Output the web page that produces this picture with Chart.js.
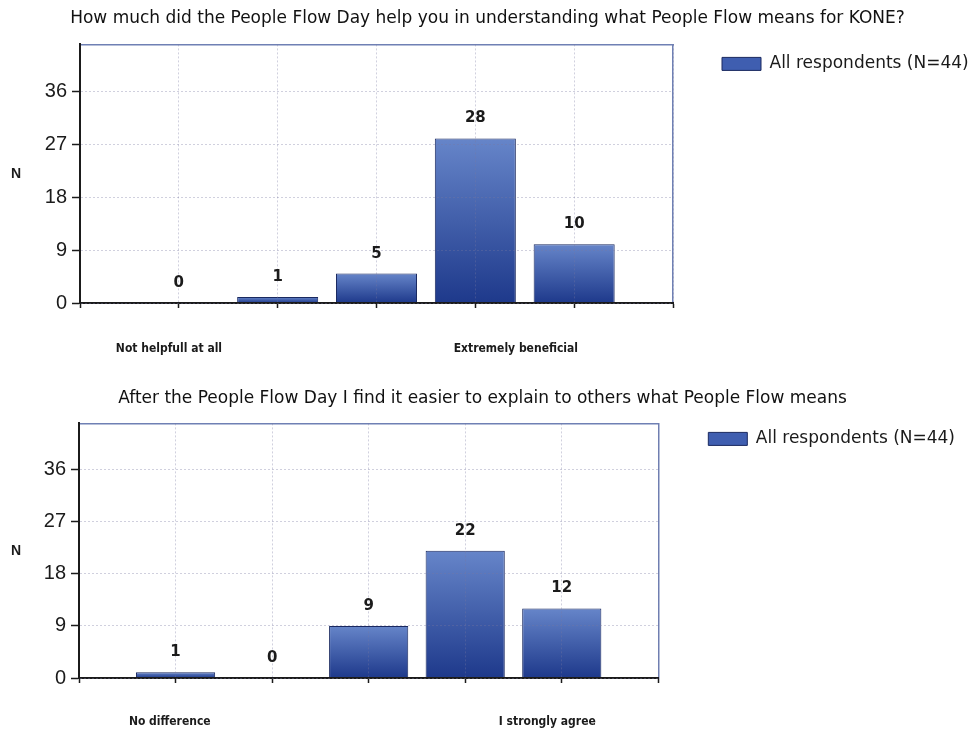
<!DOCTYPE html>
<html>
<head>
<meta charset="utf-8">
<script src="https://cdn.jsdelivr.net/npm/chart.js@4.4.1/dist/chart.umd.min.js"></script>
<style>
  body { margin: 0; background: #fff; }
  .box { position: absolute; left: 0; width: 975px; }
</style>
</head>
<body>
<div class="box" style="top:0;height:372px"><canvas id="chart1"></canvas></div>
<div class="box" style="top:372px;height:360px"><canvas id="chart2"></canvas></div>
<script>
// data
const seriesName = 'All respondents (N=44)';

const title1 = 'How much did the People Flow Day help you in understanding what People Flow means for KONE?';
const categories1 = ['Not helpfull at all', '', '', '', 'Extremely beneficial'];
const values1 = [0, 1, 5, 28, 10];

const title2 = 'After the People Flow Day I find it easier to explain to others what People Flow means';
const categories2 = ['No difference', '', '', '', 'I strongly agree'];
const values2 = [1, 0, 9, 22, 12];

const yTicks = [0, 9, 18, 27, 36];
const yMax = 44;

const dark = '#1b1b1b';
const gridColor = 'rgba(120,120,160,0.35)';
const frameBlue = '#6f80b4';

// bar fill: light blue at the top of each bar, dark navy at its base
function barFill(c) {
  const flat = '#3f5eb0';
  if (c.type !== 'data' || !c.parsed) return flat;
  const y = c.chart.scales.y;
  if (!y) return flat;
  const top = y.getPixelForValue(c.parsed.y);
  const base = y.getPixelForValue(0);
  if (!isFinite(top) || !isFinite(base) || Math.abs(base - top) < 1) return flat;
  const g = c.chart.ctx.createLinearGradient(0, top, 0, base);
  g.addColorStop(0, '#6685c9');
  g.addColorStop(1, '#1e398b');
  return g;
}

// value above each bar + the horizontal "N" axis name
const barValues = {
  id: 'barValues',
  afterDraw(chart) {
    const ctx = chart.ctx;
    const meta = chart.getDatasetMeta(0);
    ctx.save();
    ctx.fillStyle = dark;
    ctx.textAlign = 'center';
    ctx.textBaseline = 'middle';
    ctx.font = 'bold 15px "DejaVu Sans"';
    meta.data.forEach((bar, i) => {
      const v = chart.data.datasets[0].data[i];
      if (v === null) return;
      ctx.fillText(String(v), bar.x, bar.y - 20);
    });
    const a = chart.chartArea;
    ctx.font = 'bold 14px "Liberation Sans"';
    ctx.fillText('N', 16, (a.top + a.bottom) / 2);
    ctx.restore();
  }
};

function makeChart(id, title, categories, values, st) {
  // one empty slot on each side, like the original axis
  const labels = [''].concat(categories, ['']);
  const data = [null].concat(values, [null]);
  const endLabels = [categories[0], categories[categories.length - 1]];

  return new Chart(document.getElementById(id), {
    type: 'bar',
    data: {
      labels: labels,
      datasets: [{
        label: seriesName,
        data: data,
        backgroundColor: barFill,
        borderColor: '#1a2960',
        borderWidth: 1,
        categoryPercentage: 1,
        barPercentage: 0.82
      }]
    },
    options: {
      responsive: true,
      maintainAspectRatio: false,
      animation: false,
      layout: { padding: { left: 0, right: st.padRight, top: 0, bottom: 0 } },
      plugins: {
        title: {
          display: true,
          text: title,
          color: '#111',
          font: { family: 'DejaVu Sans', size: 17, weight: 'normal' },
          padding: { top: st.titleTop, bottom: st.titleBottom }
        },
        legend: {
          position: 'right',
          align: 'start',
          fullSize: false,
          maxWidth: st.legendWidth,
          labels: {
            boxWidth: 39,
            boxHeight: 13,
            padding: st.legendPad,
            color: '#1a1a1a',
            font: { family: 'DejaVu Sans', size: 17 }
          }
        },
        tooltip: { enabled: false }
      },
      scales: {
        x: {
          type: 'category',
          offset: false,
          grid: { offset: false, color: gridColor, tickColor: dark, tickLength: 5, tickWidth: 1.5, z: 1 },
          border: { color: dark, width: 2, dash: [2, 2], z: 1 },
          ticks: { display: false },
          afterFit: s => { s.height = 5; }
        },
        xl: {
          type: 'linear',
          position: 'bottom',
          weight: 1,
          offset: false,
          min: 0,
          max: labels.length - 1,
          grid: { display: false, drawTicks: false, offset: false },
          border: { display: false },
          afterBuildTicks: s => { s.ticks = st.labelPos.map(v => ({ value: v })); },
          ticks: {
            autoSkip: false,
            maxRotation: 0,
            padding: st.labelPad,
            color: dark,
            font: { family: '"Liberation Sans Narrow", "DejaVu Sans Condensed", "Liberation Sans", sans-serif', size: 12, weight: 'bold' },
            callback: (v, i) => endLabels[i]
          },
          afterFit: s => { s.height = st.labelHeight; }
        },
        xt: {
          type: 'linear',
          position: 'top',
          offset: false,
          grid: { display: false, drawTicks: false, offset: false },
          ticks: { display: false },
          border: { color: frameBlue, width: 1.5 },
          afterFit: s => { s.height = 0; }
        },
        y: {
          min: 0,
          max: yMax,
          afterBuildTicks: s => { s.ticks = yTicks.map(v => ({ value: v })); },
          grid: { color: gridColor, tickColor: dark, tickLength: 8, tickWidth: 1.5, z: 1 },
          border: { color: dark, width: 2, dash: [2, 2], z: 1 },
          ticks: {
            padding: 5,
            color: dark,
            font: { family: 'Liberation Sans', size: 20 }
          },
          afterFit: s => { s.width = st.yWidth; }
        },
        y2: {
          type: 'linear',
          position: 'right',
          grid: { display: false, drawTicks: false },
          ticks: { display: false },
          border: { color: frameBlue, width: 1.5 },
          afterFit: s => { s.width = st.rightGap; }
        }
      }
    },
    plugins: [barValues]
  });
}

makeChart('chart1', title1, categories1, values1, {
  titleTop: 8, titleBottom: 16,
  yWidth: 80, rightGap: 38, padRight: 0, legendPad: 11, legendWidth: 264,
  labelPos: [0.90, 4.41], labelPad: 34, labelHeight: 64
});

makeChart('chart2', title2, categories2, values2, {
  titleTop: 16, titleBottom: 15,
  yWidth: 79, rightGap: 43, padRight: 10, legendPad: 7, legendWidth: 266,
  labelPos: [0.94, 4.85], labelPad: 32, labelHeight: 49
});
</script>
</body>
</html>
